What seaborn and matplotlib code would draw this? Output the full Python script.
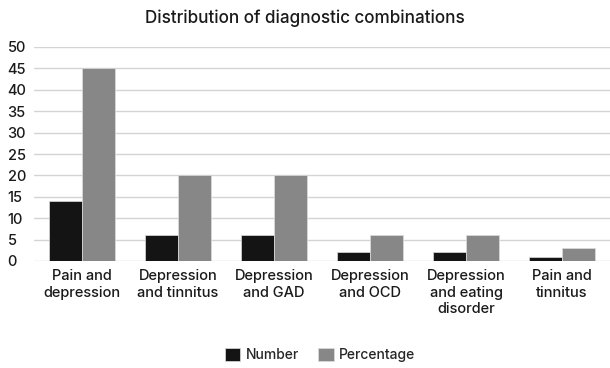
import numpy as np
import pandas as pd
import matplotlib
matplotlib.use('Agg')
import matplotlib.pyplot as plt
import seaborn as sns

# data
categories = ['Pain and\ndepression', 'Depression\nand tinnitus', 'Depression\nand GAD',
              'Depression\nand OCD', 'Depression\nand eating\ndisorder', 'Pain and\ntinnitus']
number = [14, 6, 6, 2, 2, 1]
percentage = [45, 20, 20, 6, 6, 3]

df = pd.DataFrame({'Category': categories * 2,
                   'Value': number + percentage,
                   'Series': ['Number'] * len(categories) + ['Percentage'] * len(categories)})

sns.set_style('white')
plt.rcParams['font.family'] = ['Inter', 'DejaVu Sans']
plt.rcParams['font.weight'] = 'medium'

fig = plt.figure(figsize=(6.1, 3.68), dpi=100)
ax = fig.add_axes([34 / 610, 1 - 261 / 368, 1 - 34 / 610, (261 - 47) / 368])

sns.barplot(data=df, x='Category', y='Value', hue='Series',
            palette={'Number': '#141414', 'Percentage': '#878787'},
            width=0.68, edgecolor='#dddddd', linewidth=0.5, ax=ax)

ax.set_ylim(0, 50)
ax.set_yticks(range(0, 51, 5))
ax.set_xlim(-0.5, len(categories) - 0.5)
ax.yaxis.grid(True, color='#d4d4d4', linewidth=1)
ax.set_axisbelow(True)
for s in ax.spines.values():
    s.set_visible(False)
ax.set_xlabel('')
ax.set_ylabel('')
ax.tick_params(axis='both', length=0, labelsize=10.5, colors='#1a1a1a')
ax.tick_params(axis='x', pad=6)
for lbl in ax.get_yticklabels():
    lbl.set_horizontalalignment('left')
ax.tick_params(axis='y', pad=19)

fig.suptitle('Distribution of diagnostic combinations', x=0.5, y=0.975,
             fontsize=12.3, color='#1a1a1a', fontweight='medium')

ax.legend_.remove()
handles, labels = ax.get_legend_handles_labels()
fig.legend(handles, labels, loc='center', bbox_to_anchor=(0.525, 1 - 355 / 368), ncol=2,
           frameon=False, fontsize=10, handlelength=1.1, handleheight=1.1,
           columnspacing=1.4, handletextpad=0.4)

fig.savefig('out.png', dpi=100)
